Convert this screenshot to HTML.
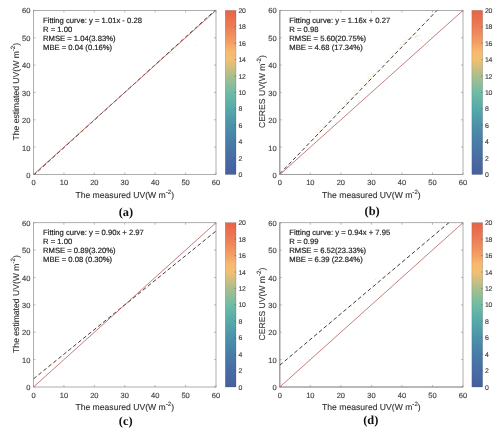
<!DOCTYPE html>
<html><head><meta charset="utf-8"><title>Figure</title>
<style>
html,body{margin:0;padding:0;background:#fff;}
svg{display:block;filter:blur(0.35px);}
.tk{font-family:"Liberation Sans", sans-serif;font-size:7.5px;fill:#444;stroke:#444;stroke-width:0.15px;}
.ck{font-family:"Liberation Sans", sans-serif;font-size:6.9px;fill:#3a3a3a;stroke:#3a3a3a;stroke-width:0.12px;letter-spacing:-0.25px;}
.an{font-family:"Liberation Sans", sans-serif;font-size:7.66px;fill:#222;stroke:#222;stroke-width:0.18px;}
.lb{font-family:"Liberation Sans", sans-serif;font-size:8.6px;fill:#333;stroke:#333;stroke-width:0.12px;}
.tg{font-family:"Liberation Serif", serif;font-size:12.4px;font-weight:bold;fill:#111;}
</style></head><body>
<svg text-rendering="geometricPrecision" width="500" height="433" viewBox="0 0 500 433"><defs><linearGradient id="cbg" x1="0" y1="1" x2="0" y2="0">
<stop offset="0" stop-color="#465fa0"/>
<stop offset="0.1" stop-color="#486ca5"/>
<stop offset="0.2" stop-color="#487da8"/>
<stop offset="0.3" stop-color="#4b91aa"/>
<stop offset="0.4" stop-color="#55aaaa"/>
<stop offset="0.5" stop-color="#6ebca5"/>
<stop offset="0.6" stop-color="#aabe8c"/>
<stop offset="0.7" stop-color="#f3bf72"/>
<stop offset="0.75" stop-color="#f8b96e"/>
<stop offset="0.8" stop-color="#f3a064"/>
<stop offset="0.9" stop-color="#ec7d55"/>
<stop offset="1" stop-color="#e86248"/>
</linearGradient></defs><rect width="500" height="433" fill="#fff"/><clipPath id="cpa"><rect x="33.5" y="10.4" width="182.5" height="164.1"/></clipPath>
<circle cx="38.37" cy="171.31" r="0.42" fill="#c9cfd9" clip-path="url(#cpa)"/>
<circle cx="40.74" cy="169.10" r="0.42" fill="#c9cfd9" clip-path="url(#cpa)"/>
<circle cx="43.11" cy="167.97" r="0.42" fill="#c3d2d6" clip-path="url(#cpa)"/>
<circle cx="45.48" cy="165.87" r="0.42" fill="#bcd6cc" clip-path="url(#cpa)"/>
<circle cx="47.86" cy="164.61" r="0.42" fill="#c3d2d6" clip-path="url(#cpa)"/>
<circle cx="50.23" cy="162.41" r="0.42" fill="#b9c6d4" clip-path="url(#cpa)"/>
<circle cx="52.60" cy="160.97" r="0.42" fill="#bcd6cc" clip-path="url(#cpa)"/>
<circle cx="54.97" cy="159.05" r="0.42" fill="#b9c6d4" clip-path="url(#cpa)"/>
<circle cx="57.35" cy="157.70" r="0.42" fill="#c9cfd9" clip-path="url(#cpa)"/>
<circle cx="59.72" cy="155.92" r="0.42" fill="#bcd6cc" clip-path="url(#cpa)"/>
<circle cx="62.09" cy="154.32" r="0.42" fill="#bcd6cc" clip-path="url(#cpa)"/>
<circle cx="76.53" cy="135.87" r="0.42" fill="#efe3b4" clip-path="url(#cpa)"/>
<circle cx="89.67" cy="122.33" r="0.42" fill="#dfe8c6" clip-path="url(#cpa)"/>
<circle cx="103.74" cy="109.33" r="0.42" fill="#f2d2a6" clip-path="url(#cpa)"/>
<circle cx="157.12" cy="63.84" r="0.42" fill="#dfe8c6" clip-path="url(#cpa)"/>
<circle cx="70.48" cy="139.87" r="0.42" fill="#efe3b4" clip-path="url(#cpa)"/>
<circle cx="117.30" cy="98.43" r="0.42" fill="#efe3b4" clip-path="url(#cpa)"/>
<circle cx="143.20" cy="69.07" r="0.42" fill="#f3dcae" clip-path="url(#cpa)"/>
<circle cx="148.39" cy="69.92" r="0.42" fill="#f2d2a6" clip-path="url(#cpa)"/>
<circle cx="149.25" cy="68.81" r="0.42" fill="#dfe8c6" clip-path="url(#cpa)"/>
<circle cx="81.15" cy="130.16" r="0.42" fill="#efe3b4" clip-path="url(#cpa)"/>
<circle cx="157.63" cy="60.71" r="0.42" fill="#efe3b4" clip-path="url(#cpa)"/>
<circle cx="92.08" cy="119.74" r="0.42" fill="#dfe8c6" clip-path="url(#cpa)"/>
<circle cx="171.39" cy="49.09" r="0.42" fill="#dfe8c6" clip-path="url(#cpa)"/>
<circle cx="113.41" cy="101.92" r="0.42" fill="#e6e0b8" clip-path="url(#cpa)"/>
<circle cx="97.90" cy="115.36" r="0.42" fill="#efe3b4" clip-path="url(#cpa)"/>
<circle cx="102.18" cy="109.56" r="0.42" fill="#efe3b4" clip-path="url(#cpa)"/>
<circle cx="83.92" cy="127.38" r="0.42" fill="#e6e0b8" clip-path="url(#cpa)"/>
<circle cx="80.45" cy="128.14" r="0.42" fill="#e9e6c0" clip-path="url(#cpa)"/>
<circle cx="140.54" cy="75.63" r="0.42" fill="#e9e6c0" clip-path="url(#cpa)"/>
<circle cx="116.27" cy="97.54" r="0.42" fill="#e9e6c0" clip-path="url(#cpa)"/>
<circle cx="113.36" cy="98.78" r="0.42" fill="#dfe8c6" clip-path="url(#cpa)"/>
<circle cx="82.05" cy="130.12" r="0.42" fill="#f3dcae" clip-path="url(#cpa)"/>
<circle cx="159.39" cy="59.17" r="0.42" fill="#f2d2a6" clip-path="url(#cpa)"/>
<circle cx="101.45" cy="110.98" r="0.42" fill="#dfe8c6" clip-path="url(#cpa)"/>
<circle cx="172.99" cy="48.12" r="0.42" fill="#f2d2a6" clip-path="url(#cpa)"/>
<circle cx="136.38" cy="76.69" r="0.42" fill="#e9e6c0" clip-path="url(#cpa)"/>
<circle cx="115.66" cy="96.31" r="0.42" fill="#efe3b4" clip-path="url(#cpa)"/>
<circle cx="149.91" cy="68.79" r="0.42" fill="#efe3b4" clip-path="url(#cpa)"/>
<circle cx="77.68" cy="132.02" r="0.42" fill="#e9e6c0" clip-path="url(#cpa)"/>
<circle cx="130.26" cy="85.76" r="0.42" fill="#f3dcae" clip-path="url(#cpa)"/>
<circle cx="134.34" cy="80.15" r="0.42" fill="#e9e6c0" clip-path="url(#cpa)"/>
<circle cx="169.19" cy="52.81" r="0.42" fill="#dfe8c6" clip-path="url(#cpa)"/>
<circle cx="88.91" cy="122.84" r="0.42" fill="#e9e6c0" clip-path="url(#cpa)"/>
<circle cx="102.14" cy="110.86" r="0.42" fill="#e6e0b8" clip-path="url(#cpa)"/>
<circle cx="89.63" cy="120.34" r="0.42" fill="#e6e0b8" clip-path="url(#cpa)"/>
<circle cx="135.05" cy="83.71" r="0.42" fill="#dfe8c6" clip-path="url(#cpa)"/>
<circle cx="161.23" cy="58.77" r="0.42" fill="#f2d2a6" clip-path="url(#cpa)"/>
<circle cx="78.12" cy="132.05" r="0.42" fill="#f2d2a6" clip-path="url(#cpa)"/>
<circle cx="169.56" cy="50.31" r="0.42" fill="#e9e6c0" clip-path="url(#cpa)"/>
<circle cx="146.51" cy="72.46" r="0.42" fill="#f2d2a6" clip-path="url(#cpa)"/>
<circle cx="120.78" cy="93.39" r="0.42" fill="#f2d2a6" clip-path="url(#cpa)"/>
<circle cx="88.14" cy="123.83" r="0.42" fill="#e9e6c0" clip-path="url(#cpa)"/>
<circle cx="119.57" cy="96.03" r="0.42" fill="#e6e0b8" clip-path="url(#cpa)"/>
<circle cx="158.15" cy="61.69" r="0.42" fill="#e9e6c0" clip-path="url(#cpa)"/>
<circle cx="147.46" cy="71.19" r="0.42" fill="#efe3b4" clip-path="url(#cpa)"/>
<circle cx="196.23" cy="45.13" r="0.42" fill="#b4ccd0" clip-path="url(#cpa)"/>
<circle cx="187.10" cy="46.78" r="0.42" fill="#c9cfd9" clip-path="url(#cpa)"/>
<circle cx="181.93" cy="47.32" r="0.42" fill="#c9cfd9" clip-path="url(#cpa)"/>
<circle cx="178.28" cy="49.24" r="0.42" fill="#c3d2d6" clip-path="url(#cpa)"/>
<circle cx="175.85" cy="50.88" r="0.42" fill="#b9c6d4" clip-path="url(#cpa)"/>
<circle cx="174.03" cy="51.70" r="0.42" fill="#b9c6d4" clip-path="url(#cpa)"/>
<circle cx="172.20" cy="52.52" r="0.42" fill="#c3d2d6" clip-path="url(#cpa)"/>
<circle cx="170.38" cy="53.07" r="0.42" fill="#b4ccd0" clip-path="url(#cpa)"/>
<rect x="33.5" y="10.4" width="182.5" height="164.1" fill="none" stroke="#999" stroke-width="0.8"/>
<line x1="33.50" y1="174.5" x2="33.50" y2="172.5" stroke="#999" stroke-width="0.7"/>
<line x1="33.50" y1="10.4" x2="33.50" y2="12.4" stroke="#999" stroke-width="0.7"/>
<line x1="33.5" y1="174.50" x2="35.5" y2="174.50" stroke="#999" stroke-width="0.7"/>
<line x1="216" y1="174.50" x2="214" y2="174.50" stroke="#999" stroke-width="0.7"/>
<text x="33.50" y="185.1" text-anchor="middle" class="tk">0</text>
<text x="30.4" y="177.95" text-anchor="end" class="tk">0</text>
<line x1="63.92" y1="174.5" x2="63.92" y2="172.5" stroke="#999" stroke-width="0.7"/>
<line x1="63.92" y1="10.4" x2="63.92" y2="12.4" stroke="#999" stroke-width="0.7"/>
<line x1="33.5" y1="147.15" x2="35.5" y2="147.15" stroke="#999" stroke-width="0.7"/>
<line x1="216" y1="147.15" x2="214" y2="147.15" stroke="#999" stroke-width="0.7"/>
<text x="63.92" y="185.1" text-anchor="middle" class="tk">10</text>
<text x="30.4" y="150.50" text-anchor="end" class="tk">10</text>
<line x1="94.33" y1="174.5" x2="94.33" y2="172.5" stroke="#999" stroke-width="0.7"/>
<line x1="94.33" y1="10.4" x2="94.33" y2="12.4" stroke="#999" stroke-width="0.7"/>
<line x1="33.5" y1="119.80" x2="35.5" y2="119.80" stroke="#999" stroke-width="0.7"/>
<line x1="216" y1="119.80" x2="214" y2="119.80" stroke="#999" stroke-width="0.7"/>
<text x="94.33" y="185.1" text-anchor="middle" class="tk">20</text>
<text x="30.4" y="123.05" text-anchor="end" class="tk">20</text>
<line x1="124.75" y1="174.5" x2="124.75" y2="172.5" stroke="#999" stroke-width="0.7"/>
<line x1="124.75" y1="10.4" x2="124.75" y2="12.4" stroke="#999" stroke-width="0.7"/>
<line x1="33.5" y1="92.45" x2="35.5" y2="92.45" stroke="#999" stroke-width="0.7"/>
<line x1="216" y1="92.45" x2="214" y2="92.45" stroke="#999" stroke-width="0.7"/>
<text x="124.75" y="185.1" text-anchor="middle" class="tk">30</text>
<text x="30.4" y="95.60" text-anchor="end" class="tk">30</text>
<line x1="155.17" y1="174.5" x2="155.17" y2="172.5" stroke="#999" stroke-width="0.7"/>
<line x1="155.17" y1="10.4" x2="155.17" y2="12.4" stroke="#999" stroke-width="0.7"/>
<line x1="33.5" y1="65.10" x2="35.5" y2="65.10" stroke="#999" stroke-width="0.7"/>
<line x1="216" y1="65.10" x2="214" y2="65.10" stroke="#999" stroke-width="0.7"/>
<text x="155.17" y="185.1" text-anchor="middle" class="tk">40</text>
<text x="30.4" y="68.15" text-anchor="end" class="tk">40</text>
<line x1="185.58" y1="174.5" x2="185.58" y2="172.5" stroke="#999" stroke-width="0.7"/>
<line x1="185.58" y1="10.4" x2="185.58" y2="12.4" stroke="#999" stroke-width="0.7"/>
<line x1="33.5" y1="37.75" x2="35.5" y2="37.75" stroke="#999" stroke-width="0.7"/>
<line x1="216" y1="37.75" x2="214" y2="37.75" stroke="#999" stroke-width="0.7"/>
<text x="185.58" y="185.1" text-anchor="middle" class="tk">50</text>
<text x="30.4" y="40.70" text-anchor="end" class="tk">50</text>
<line x1="216.00" y1="174.5" x2="216.00" y2="172.5" stroke="#999" stroke-width="0.7"/>
<line x1="216.00" y1="10.4" x2="216.00" y2="12.4" stroke="#999" stroke-width="0.7"/>
<line x1="33.5" y1="10.40" x2="35.5" y2="10.40" stroke="#999" stroke-width="0.7"/>
<line x1="216" y1="10.40" x2="214" y2="10.40" stroke="#999" stroke-width="0.7"/>
<text x="216.00" y="185.1" text-anchor="middle" class="tk">60</text>
<text x="30.4" y="13.25" text-anchor="end" class="tk">60</text>
<line x1="33.50" y1="175.27" x2="216.00" y2="9.52" stroke="#333" stroke-width="0.95" stroke-dasharray="3.9 2.5" clip-path="url(#cpa)"/>
<line x1="33.5" y1="174.5" x2="216.0" y2="10.400000000000006" stroke="#b85c5c" stroke-width="0.8" clip-path="url(#cpa)"/>
<text x="43.0" y="22.60" class="an">Fitting curve: y = 1.01x - 0.28</text>
<text x="43.0" y="31.60" class="an">R = 1.00</text>
<text x="43.0" y="40.60" class="an">RMSE = 1.04(3.83%)</text>
<text x="43.0" y="49.60" class="an">MBE = 0.04 (0.16%)</text>
<text x="124.75" y="198.0" text-anchor="middle" class="lb">The measured UV(W m<tspan dy="-3.8" font-size="6.2">-2</tspan><tspan dy="3.8">)</tspan></text>
<text transform="translate(18.5,91.65) rotate(-90)" text-anchor="middle" class="lb">The estimated UV(W m<tspan dy="-3.8" font-size="6.2">-2</tspan><tspan dy="3.8">)</tspan></text>
<rect x="225.3" y="10.4" width="10.699999999999989" height="164.1" fill="url(#cbg)" stroke="#444" stroke-opacity="0.55" stroke-width="0.4"/>
<text x="238.4" y="177.10" class="ck">0</text>
<text x="238.4" y="160.69" class="ck">2</text>
<line x1="236.0" y1="158.09" x2="234.4" y2="158.09" stroke="#444" stroke-opacity="0.7" stroke-width="0.5"/>
<text x="238.4" y="144.28" class="ck">4</text>
<line x1="236.0" y1="141.68" x2="234.4" y2="141.68" stroke="#444" stroke-opacity="0.7" stroke-width="0.5"/>
<text x="238.4" y="127.87" class="ck">6</text>
<line x1="236.0" y1="125.27" x2="234.4" y2="125.27" stroke="#444" stroke-opacity="0.7" stroke-width="0.5"/>
<text x="238.4" y="111.46" class="ck">8</text>
<line x1="236.0" y1="108.86" x2="234.4" y2="108.86" stroke="#444" stroke-opacity="0.7" stroke-width="0.5"/>
<text x="238.4" y="95.05" class="ck">10</text>
<line x1="236.0" y1="92.45" x2="234.4" y2="92.45" stroke="#444" stroke-opacity="0.7" stroke-width="0.5"/>
<text x="238.4" y="78.64" class="ck">12</text>
<line x1="236.0" y1="76.04" x2="234.4" y2="76.04" stroke="#444" stroke-opacity="0.7" stroke-width="0.5"/>
<text x="238.4" y="62.23" class="ck">14</text>
<line x1="236.0" y1="59.63" x2="234.4" y2="59.63" stroke="#444" stroke-opacity="0.7" stroke-width="0.5"/>
<text x="238.4" y="45.82" class="ck">16</text>
<line x1="236.0" y1="43.22" x2="234.4" y2="43.22" stroke="#444" stroke-opacity="0.7" stroke-width="0.5"/>
<text x="238.4" y="29.41" class="ck">18</text>
<line x1="236.0" y1="26.81" x2="234.4" y2="26.81" stroke="#444" stroke-opacity="0.7" stroke-width="0.5"/>
<text x="238.4" y="13.00" class="ck">20</text>
<text x="125.9" y="216.2" text-anchor="middle" class="tg">(a)</text><clipPath id="cpb"><rect x="279.8" y="10.4" width="183.2" height="164.1"/></clipPath>
<circle cx="284.69" cy="170.73" r="0.42" fill="#b9c6d4" clip-path="url(#cpb)"/>
<circle cx="287.07" cy="169.27" r="0.42" fill="#bcd6cc" clip-path="url(#cpb)"/>
<circle cx="289.45" cy="167.33" r="0.42" fill="#b9c6d4" clip-path="url(#cpb)"/>
<circle cx="291.83" cy="165.85" r="0.42" fill="#b4ccd0" clip-path="url(#cpb)"/>
<circle cx="294.21" cy="164.13" r="0.42" fill="#b4ccd0" clip-path="url(#cpb)"/>
<circle cx="296.59" cy="162.61" r="0.42" fill="#b9c6d4" clip-path="url(#cpb)"/>
<circle cx="298.97" cy="160.98" r="0.42" fill="#bcd6cc" clip-path="url(#cpb)"/>
<circle cx="301.36" cy="158.71" r="0.42" fill="#c9cfd9" clip-path="url(#cpb)"/>
<circle cx="303.74" cy="157.45" r="0.42" fill="#b9c6d4" clip-path="url(#cpb)"/>
<circle cx="306.12" cy="155.84" r="0.42" fill="#bcd6cc" clip-path="url(#cpb)"/>
<circle cx="308.50" cy="154.08" r="0.42" fill="#c3d2d6" clip-path="url(#cpb)"/>
<circle cx="404.20" cy="40.30" r="0.42" fill="#f2d2a6" clip-path="url(#cpb)"/>
<circle cx="319.92" cy="132.72" r="0.42" fill="#e9e6c0" clip-path="url(#cpb)"/>
<circle cx="415.63" cy="37.29" r="0.42" fill="#e6e0b8" clip-path="url(#cpb)"/>
<circle cx="368.45" cy="76.21" r="0.42" fill="#e6e0b8" clip-path="url(#cpb)"/>
<circle cx="333.16" cy="114.69" r="0.42" fill="#efe3b4" clip-path="url(#cpb)"/>
<circle cx="358.21" cy="89.56" r="0.42" fill="#dfe8c6" clip-path="url(#cpb)"/>
<circle cx="355.84" cy="91.05" r="0.42" fill="#f2d2a6" clip-path="url(#cpb)"/>
<circle cx="353.33" cy="96.08" r="0.42" fill="#f2d2a6" clip-path="url(#cpb)"/>
<circle cx="373.37" cy="75.53" r="0.42" fill="#f2d2a6" clip-path="url(#cpb)"/>
<circle cx="359.06" cy="90.12" r="0.42" fill="#efe3b4" clip-path="url(#cpb)"/>
<circle cx="359.53" cy="87.73" r="0.42" fill="#e9e6c0" clip-path="url(#cpb)"/>
<circle cx="368.10" cy="77.21" r="0.42" fill="#e9e6c0" clip-path="url(#cpb)"/>
<circle cx="331.70" cy="117.34" r="0.42" fill="#f3dcae" clip-path="url(#cpb)"/>
<circle cx="410.61" cy="37.40" r="0.42" fill="#efe3b4" clip-path="url(#cpb)"/>
<circle cx="370.61" cy="79.21" r="0.42" fill="#e9e6c0" clip-path="url(#cpb)"/>
<circle cx="383.45" cy="67.18" r="0.42" fill="#efe3b4" clip-path="url(#cpb)"/>
<circle cx="401.88" cy="44.14" r="0.42" fill="#efe3b4" clip-path="url(#cpb)"/>
<circle cx="366.66" cy="82.75" r="0.42" fill="#e6e0b8" clip-path="url(#cpb)"/>
<circle cx="392.86" cy="54.80" r="0.42" fill="#e6e0b8" clip-path="url(#cpb)"/>
<circle cx="389.70" cy="57.06" r="0.42" fill="#f2d2a6" clip-path="url(#cpb)"/>
<circle cx="341.05" cy="108.50" r="0.42" fill="#f3dcae" clip-path="url(#cpb)"/>
<circle cx="381.20" cy="65.52" r="0.42" fill="#e6e0b8" clip-path="url(#cpb)"/>
<circle cx="377.17" cy="69.54" r="0.42" fill="#efe3b4" clip-path="url(#cpb)"/>
<circle cx="416.74" cy="36.79" r="0.42" fill="#e9e6c0" clip-path="url(#cpb)"/>
<circle cx="370.50" cy="76.73" r="0.42" fill="#efe3b4" clip-path="url(#cpb)"/>
<circle cx="342.92" cy="106.19" r="0.42" fill="#e9e6c0" clip-path="url(#cpb)"/>
<circle cx="356.43" cy="90.81" r="0.42" fill="#f2d2a6" clip-path="url(#cpb)"/>
<circle cx="402.53" cy="41.10" r="0.42" fill="#f2d2a6" clip-path="url(#cpb)"/>
<circle cx="316.91" cy="132.78" r="0.42" fill="#dfe8c6" clip-path="url(#cpb)"/>
<circle cx="318.64" cy="129.06" r="0.42" fill="#f3dcae" clip-path="url(#cpb)"/>
<circle cx="340.00" cy="111.41" r="0.42" fill="#efe3b4" clip-path="url(#cpb)"/>
<circle cx="412.86" cy="37.17" r="0.42" fill="#e6e0b8" clip-path="url(#cpb)"/>
<circle cx="347.46" cy="102.10" r="0.42" fill="#f3dcae" clip-path="url(#cpb)"/>
<circle cx="317.90" cy="132.02" r="0.42" fill="#efe3b4" clip-path="url(#cpb)"/>
<circle cx="336.40" cy="112.99" r="0.42" fill="#e6e0b8" clip-path="url(#cpb)"/>
<circle cx="338.32" cy="113.27" r="0.42" fill="#f3dcae" clip-path="url(#cpb)"/>
<circle cx="341.07" cy="108.44" r="0.42" fill="#e6e0b8" clip-path="url(#cpb)"/>
<circle cx="353.98" cy="95.37" r="0.42" fill="#f2d2a6" clip-path="url(#cpb)"/>
<circle cx="372.31" cy="76.77" r="0.42" fill="#f2d2a6" clip-path="url(#cpb)"/>
<circle cx="341.50" cy="104.49" r="0.42" fill="#f3dcae" clip-path="url(#cpb)"/>
<circle cx="403.02" cy="41.15" r="0.42" fill="#e9e6c0" clip-path="url(#cpb)"/>
<circle cx="417.45" cy="35.87" r="0.42" fill="#efe3b4" clip-path="url(#cpb)"/>
<circle cx="354.72" cy="91.93" r="0.42" fill="#e9e6c0" clip-path="url(#cpb)"/>
<circle cx="322.54" cy="128.63" r="0.42" fill="#efe3b4" clip-path="url(#cpb)"/>
<circle cx="368.71" cy="80.41" r="0.42" fill="#f2d2a6" clip-path="url(#cpb)"/>
<circle cx="352.07" cy="96.99" r="0.42" fill="#f3dcae" clip-path="url(#cpb)"/>
<circle cx="395.44" cy="51.71" r="0.42" fill="#e6e0b8" clip-path="url(#cpb)"/>
<circle cx="318.88" cy="130.51" r="0.42" fill="#f2d2a6" clip-path="url(#cpb)"/>
<circle cx="320.50" cy="130.15" r="0.42" fill="#f3dcae" clip-path="url(#cpb)"/>
<circle cx="410.56" cy="38.01" r="0.42" fill="#e6e0b8" clip-path="url(#cpb)"/>
<circle cx="372.06" cy="74.38" r="0.42" fill="#e6e0b8" clip-path="url(#cpb)"/>
<circle cx="318.97" cy="128.19" r="0.42" fill="#f3dcae" clip-path="url(#cpb)"/>
<circle cx="385.96" cy="58.93" r="0.42" fill="#efe3b4" clip-path="url(#cpb)"/>
<circle cx="412.33" cy="36.47" r="0.42" fill="#f3dcae" clip-path="url(#cpb)"/>
<circle cx="325.43" cy="123.97" r="0.42" fill="#e9e6c0" clip-path="url(#cpb)"/>
<circle cx="330.47" cy="121.45" r="0.42" fill="#e9e6c0" clip-path="url(#cpb)"/>
<circle cx="400.30" cy="44.50" r="0.42" fill="#f2d2a6" clip-path="url(#cpb)"/>
<circle cx="415.88" cy="36.66" r="0.42" fill="#f3dcae" clip-path="url(#cpb)"/>
<circle cx="368.33" cy="79.41" r="0.42" fill="#e9e6c0" clip-path="url(#cpb)"/>
<circle cx="393.70" cy="52.38" r="0.42" fill="#f3dcae" clip-path="url(#cpb)"/>
<circle cx="419.66" cy="36.10" r="0.42" fill="#dfe8c6" clip-path="url(#cpb)"/>
<circle cx="348.27" cy="101.67" r="0.42" fill="#e6e0b8" clip-path="url(#cpb)"/>
<circle cx="349.68" cy="97.39" r="0.42" fill="#f2d2a6" clip-path="url(#cpb)"/>
<circle cx="409.06" cy="37.94" r="0.42" fill="#dfe8c6" clip-path="url(#cpb)"/>
<circle cx="386.72" cy="59.66" r="0.42" fill="#f3dcae" clip-path="url(#cpb)"/>
<circle cx="335.69" cy="116.82" r="0.42" fill="#efe3b4" clip-path="url(#cpb)"/>
<circle cx="329.90" cy="124.53" r="0.42" fill="#e9e6c0" clip-path="url(#cpb)"/>
<circle cx="373.60" cy="73.29" r="0.42" fill="#e9e6c0" clip-path="url(#cpb)"/>
<circle cx="315.58" cy="136.34" r="0.42" fill="#f3dcae" clip-path="url(#cpb)"/>
<circle cx="370.84" cy="78.64" r="0.42" fill="#f3dcae" clip-path="url(#cpb)"/>
<circle cx="392.29" cy="55.72" r="0.42" fill="#dfe8c6" clip-path="url(#cpb)"/>
<circle cx="384.72" cy="61.73" r="0.42" fill="#dfe8c6" clip-path="url(#cpb)"/>
<circle cx="341.37" cy="106.69" r="0.42" fill="#e9e6c0" clip-path="url(#cpb)"/>
<circle cx="382.15" cy="68.31" r="0.42" fill="#efe3b4" clip-path="url(#cpb)"/>
<circle cx="377.71" cy="68.31" r="0.42" fill="#f3dcae" clip-path="url(#cpb)"/>
<circle cx="362.58" cy="83.06" r="0.42" fill="#efe3b4" clip-path="url(#cpb)"/>
<circle cx="375.42" cy="78.31" r="0.42" fill="#e9e6c0" clip-path="url(#cpb)"/>
<circle cx="416.55" cy="35.26" r="0.42" fill="#f2d2a6" clip-path="url(#cpb)"/>
<circle cx="346.30" cy="100.64" r="0.42" fill="#e6e0b8" clip-path="url(#cpb)"/>
<circle cx="367.77" cy="81.56" r="0.42" fill="#efe3b4" clip-path="url(#cpb)"/>
<circle cx="353.20" cy="96.67" r="0.42" fill="#efe3b4" clip-path="url(#cpb)"/>
<circle cx="331.09" cy="119.92" r="0.42" fill="#dfe8c6" clip-path="url(#cpb)"/>
<circle cx="413.92" cy="37.19" r="0.42" fill="#efe3b4" clip-path="url(#cpb)"/>
<circle cx="341.32" cy="107.99" r="0.42" fill="#e6e0b8" clip-path="url(#cpb)"/>
<circle cx="322.37" cy="126.69" r="0.42" fill="#dfe8c6" clip-path="url(#cpb)"/>
<circle cx="370.87" cy="77.23" r="0.42" fill="#f3dcae" clip-path="url(#cpb)"/>
<circle cx="337.79" cy="108.19" r="0.42" fill="#efe3b4" clip-path="url(#cpb)"/>
<circle cx="379.02" cy="64.84" r="0.42" fill="#f2d2a6" clip-path="url(#cpb)"/>
<circle cx="371.20" cy="76.64" r="0.42" fill="#f3dcae" clip-path="url(#cpb)"/>
<circle cx="415.16" cy="36.32" r="0.42" fill="#dfe8c6" clip-path="url(#cpb)"/>
<circle cx="341.58" cy="108.63" r="0.42" fill="#f3dcae" clip-path="url(#cpb)"/>
<circle cx="329.05" cy="121.95" r="0.42" fill="#f2d2a6" clip-path="url(#cpb)"/>
<circle cx="323.71" cy="129.02" r="0.42" fill="#efe3b4" clip-path="url(#cpb)"/>
<circle cx="330.28" cy="119.01" r="0.42" fill="#dfe8c6" clip-path="url(#cpb)"/>
<circle cx="383.74" cy="65.28" r="0.42" fill="#efe3b4" clip-path="url(#cpb)"/>
<circle cx="404.75" cy="41.07" r="0.42" fill="#f2d2a6" clip-path="url(#cpb)"/>
<circle cx="373.45" cy="73.38" r="0.42" fill="#e6e0b8" clip-path="url(#cpb)"/>
<circle cx="325.11" cy="127.67" r="0.42" fill="#dfe8c6" clip-path="url(#cpb)"/>
<circle cx="402.31" cy="44.22" r="0.42" fill="#efe3b4" clip-path="url(#cpb)"/>
<circle cx="419.43" cy="35.88" r="0.42" fill="#e6e0b8" clip-path="url(#cpb)"/>
<circle cx="398.24" cy="46.64" r="0.42" fill="#e6e0b8" clip-path="url(#cpb)"/>
<circle cx="351.61" cy="98.61" r="0.42" fill="#f2d2a6" clip-path="url(#cpb)"/>
<circle cx="363.50" cy="83.01" r="0.42" fill="#dfe8c6" clip-path="url(#cpb)"/>
<circle cx="329.62" cy="118.69" r="0.42" fill="#f3dcae" clip-path="url(#cpb)"/>
<circle cx="392.19" cy="58.57" r="0.42" fill="#dfe8c6" clip-path="url(#cpb)"/>
<circle cx="369.53" cy="78.29" r="0.42" fill="#efe3b4" clip-path="url(#cpb)"/>
<circle cx="336.02" cy="115.09" r="0.42" fill="#efe3b4" clip-path="url(#cpb)"/>
<circle cx="402.03" cy="45.50" r="0.42" fill="#efe3b4" clip-path="url(#cpb)"/>
<circle cx="381.58" cy="64.72" r="0.42" fill="#e9e6c0" clip-path="url(#cpb)"/>
<circle cx="329.41" cy="121.87" r="0.42" fill="#f2d2a6" clip-path="url(#cpb)"/>
<circle cx="364.84" cy="84.85" r="0.42" fill="#f3dcae" clip-path="url(#cpb)"/>
<circle cx="327.93" cy="120.24" r="0.42" fill="#e9e6c0" clip-path="url(#cpb)"/>
<circle cx="411.03" cy="36.90" r="0.42" fill="#f3dcae" clip-path="url(#cpb)"/>
<circle cx="379.14" cy="70.47" r="0.42" fill="#f2d2a6" clip-path="url(#cpb)"/>
<circle cx="410.65" cy="38.75" r="0.42" fill="#e9e6c0" clip-path="url(#cpb)"/>
<circle cx="347.52" cy="100.05" r="0.42" fill="#e6e0b8" clip-path="url(#cpb)"/>
<circle cx="337.71" cy="111.06" r="0.42" fill="#f2d2a6" clip-path="url(#cpb)"/>
<circle cx="344.73" cy="103.60" r="0.42" fill="#efe3b4" clip-path="url(#cpb)"/>
<circle cx="392.63" cy="53.95" r="0.42" fill="#f2d2a6" clip-path="url(#cpb)"/>
<circle cx="365.41" cy="82.48" r="0.42" fill="#e9e6c0" clip-path="url(#cpb)"/>
<circle cx="394.35" cy="52.23" r="0.42" fill="#f3dcae" clip-path="url(#cpb)"/>
<circle cx="318.17" cy="133.33" r="0.42" fill="#f2d2a6" clip-path="url(#cpb)"/>
<circle cx="360.65" cy="87.22" r="0.42" fill="#f3dcae" clip-path="url(#cpb)"/>
<circle cx="338.29" cy="113.54" r="0.42" fill="#e6e0b8" clip-path="url(#cpb)"/>
<circle cx="417.46" cy="35.90" r="0.42" fill="#e6e0b8" clip-path="url(#cpb)"/>
<circle cx="316.01" cy="134.00" r="0.42" fill="#dfe8c6" clip-path="url(#cpb)"/>
<circle cx="354.68" cy="90.35" r="0.42" fill="#f2d2a6" clip-path="url(#cpb)"/>
<circle cx="323.87" cy="123.97" r="0.42" fill="#f3dcae" clip-path="url(#cpb)"/>
<circle cx="355.11" cy="91.93" r="0.42" fill="#efe3b4" clip-path="url(#cpb)"/>
<circle cx="419.38" cy="34.32" r="0.42" fill="#dfe8c6" clip-path="url(#cpb)"/>
<circle cx="348.20" cy="99.56" r="0.42" fill="#efe3b4" clip-path="url(#cpb)"/>
<circle cx="415.97" cy="37.88" r="0.42" fill="#f3dcae" clip-path="url(#cpb)"/>
<circle cx="342.26" cy="103.09" r="0.42" fill="#f3dcae" clip-path="url(#cpb)"/>
<circle cx="398.26" cy="47.19" r="0.42" fill="#e6e0b8" clip-path="url(#cpb)"/>
<circle cx="323.84" cy="124.20" r="0.42" fill="#e9e6c0" clip-path="url(#cpb)"/>
<circle cx="338.51" cy="109.50" r="0.42" fill="#f3dcae" clip-path="url(#cpb)"/>
<circle cx="363.30" cy="84.68" r="0.42" fill="#dfe8c6" clip-path="url(#cpb)"/>
<circle cx="322.71" cy="129.18" r="0.42" fill="#dfe8c6" clip-path="url(#cpb)"/>
<circle cx="345.25" cy="101.84" r="0.42" fill="#f2d2a6" clip-path="url(#cpb)"/>
<circle cx="378.51" cy="68.10" r="0.42" fill="#dfe8c6" clip-path="url(#cpb)"/>
<circle cx="377.13" cy="70.03" r="0.42" fill="#dfe8c6" clip-path="url(#cpb)"/>
<circle cx="339.31" cy="111.23" r="0.42" fill="#efe3b4" clip-path="url(#cpb)"/>
<circle cx="391.16" cy="55.75" r="0.42" fill="#f2d2a6" clip-path="url(#cpb)"/>
<circle cx="325.01" cy="125.83" r="0.42" fill="#f3dcae" clip-path="url(#cpb)"/>
<circle cx="393.68" cy="54.29" r="0.42" fill="#efe3b4" clip-path="url(#cpb)"/>
<circle cx="365.09" cy="86.87" r="0.42" fill="#efe3b4" clip-path="url(#cpb)"/>
<circle cx="406.20" cy="41.74" r="0.42" fill="#efe3b4" clip-path="url(#cpb)"/>
<circle cx="354.19" cy="93.17" r="0.42" fill="#efe3b4" clip-path="url(#cpb)"/>
<circle cx="369.23" cy="79.12" r="0.42" fill="#efe3b4" clip-path="url(#cpb)"/>
<circle cx="394.16" cy="52.74" r="0.42" fill="#e6e0b8" clip-path="url(#cpb)"/>
<circle cx="368.41" cy="78.36" r="0.42" fill="#e9e6c0" clip-path="url(#cpb)"/>
<circle cx="367.90" cy="77.50" r="0.42" fill="#f2d2a6" clip-path="url(#cpb)"/>
<circle cx="346.59" cy="103.01" r="0.42" fill="#efe3b4" clip-path="url(#cpb)"/>
<circle cx="392.32" cy="56.42" r="0.42" fill="#e9e6c0" clip-path="url(#cpb)"/>
<circle cx="370.66" cy="82.18" r="0.42" fill="#e6e0b8" clip-path="url(#cpb)"/>
<circle cx="337.93" cy="109.15" r="0.42" fill="#e9e6c0" clip-path="url(#cpb)"/>
<circle cx="342.20" cy="107.84" r="0.42" fill="#dfe8c6" clip-path="url(#cpb)"/>
<circle cx="351.28" cy="96.98" r="0.42" fill="#dfe8c6" clip-path="url(#cpb)"/>
<circle cx="385.28" cy="60.21" r="0.42" fill="#efe3b4" clip-path="url(#cpb)"/>
<circle cx="344.81" cy="99.32" r="0.42" fill="#e6e0b8" clip-path="url(#cpb)"/>
<circle cx="412.05" cy="38.81" r="0.42" fill="#dfe8c6" clip-path="url(#cpb)"/>
<circle cx="350.67" cy="100.69" r="0.42" fill="#f2d2a6" clip-path="url(#cpb)"/>
<circle cx="323.31" cy="128.02" r="0.42" fill="#f2d2a6" clip-path="url(#cpb)"/>
<circle cx="361.04" cy="86.95" r="0.42" fill="#f2d2a6" clip-path="url(#cpb)"/>
<circle cx="407.04" cy="39.08" r="0.42" fill="#f2d2a6" clip-path="url(#cpb)"/>
<circle cx="392.64" cy="54.29" r="0.42" fill="#efe3b4" clip-path="url(#cpb)"/>
<circle cx="355.15" cy="94.42" r="0.42" fill="#efe3b4" clip-path="url(#cpb)"/>
<circle cx="418.85" cy="35.57" r="0.42" fill="#dfe8c6" clip-path="url(#cpb)"/>
<circle cx="345.32" cy="106.35" r="0.42" fill="#e6e0b8" clip-path="url(#cpb)"/>
<circle cx="330.07" cy="119.96" r="0.42" fill="#dfe8c6" clip-path="url(#cpb)"/>
<circle cx="408.36" cy="39.59" r="0.42" fill="#efe3b4" clip-path="url(#cpb)"/>
<circle cx="404.10" cy="41.25" r="0.42" fill="#dfe8c6" clip-path="url(#cpb)"/>
<circle cx="417.62" cy="39.33" r="0.42" fill="#efe3b4" clip-path="url(#cpb)"/>
<circle cx="417.72" cy="39.27" r="0.42" fill="#f3dcae" clip-path="url(#cpb)"/>
<circle cx="417.23" cy="35.03" r="0.42" fill="#e9e6c0" clip-path="url(#cpb)"/>
<circle cx="415.42" cy="36.79" r="0.42" fill="#f2d2a6" clip-path="url(#cpb)"/>
<circle cx="416.94" cy="36.66" r="0.42" fill="#f2d2a6" clip-path="url(#cpb)"/>
<circle cx="406.41" cy="38.41" r="0.42" fill="#dfe8c6" clip-path="url(#cpb)"/>
<circle cx="404.21" cy="37.66" r="0.42" fill="#dfe8c6" clip-path="url(#cpb)"/>
<circle cx="420.19" cy="39.22" r="0.42" fill="#f3dcae" clip-path="url(#cpb)"/>
<circle cx="412.67" cy="42.16" r="0.42" fill="#e9e6c0" clip-path="url(#cpb)"/>
<circle cx="420.96" cy="35.74" r="0.42" fill="#f2d2a6" clip-path="url(#cpb)"/>
<circle cx="442.85" cy="44.31" r="0.42" fill="#c9cfd9" clip-path="url(#cpb)"/>
<circle cx="433.69" cy="43.22" r="0.42" fill="#c3d2d6" clip-path="url(#cpb)"/>
<circle cx="428.50" cy="44.31" r="0.42" fill="#b4ccd0" clip-path="url(#cpb)"/>
<circle cx="421.47" cy="40.21" r="0.42" fill="#bcd6cc" clip-path="url(#cpb)"/>
<circle cx="417.81" cy="38.30" r="0.42" fill="#bcd6cc" clip-path="url(#cpb)"/>
<circle cx="407.73" cy="35.56" r="0.42" fill="#c3d2d6" clip-path="url(#cpb)"/>
<rect x="279.8" y="10.4" width="183.2" height="164.1" fill="none" stroke="#999" stroke-width="0.8"/>
<path d="M279.8 10.4 V174.5 H463" fill="none" stroke="#9c9c9c" stroke-width="1.15"/>
<line x1="279.80" y1="174.5" x2="279.80" y2="172.5" stroke="#999" stroke-width="0.7"/>
<line x1="279.80" y1="10.4" x2="279.80" y2="12.4" stroke="#999" stroke-width="0.7"/>
<line x1="279.8" y1="174.50" x2="281.8" y2="174.50" stroke="#999" stroke-width="0.7"/>
<line x1="463" y1="174.50" x2="461" y2="174.50" stroke="#999" stroke-width="0.7"/>
<text x="279.80" y="185.1" text-anchor="middle" class="tk">0</text>
<text x="276.7" y="177.95" text-anchor="end" class="tk">0</text>
<line x1="310.33" y1="174.5" x2="310.33" y2="172.5" stroke="#999" stroke-width="0.7"/>
<line x1="310.33" y1="10.4" x2="310.33" y2="12.4" stroke="#999" stroke-width="0.7"/>
<line x1="279.8" y1="147.15" x2="281.8" y2="147.15" stroke="#999" stroke-width="0.7"/>
<line x1="463" y1="147.15" x2="461" y2="147.15" stroke="#999" stroke-width="0.7"/>
<text x="310.33" y="185.1" text-anchor="middle" class="tk">10</text>
<text x="276.7" y="150.50" text-anchor="end" class="tk">10</text>
<line x1="340.87" y1="174.5" x2="340.87" y2="172.5" stroke="#999" stroke-width="0.7"/>
<line x1="340.87" y1="10.4" x2="340.87" y2="12.4" stroke="#999" stroke-width="0.7"/>
<line x1="279.8" y1="119.80" x2="281.8" y2="119.80" stroke="#999" stroke-width="0.7"/>
<line x1="463" y1="119.80" x2="461" y2="119.80" stroke="#999" stroke-width="0.7"/>
<text x="340.87" y="185.1" text-anchor="middle" class="tk">20</text>
<text x="276.7" y="123.05" text-anchor="end" class="tk">20</text>
<line x1="371.40" y1="174.5" x2="371.40" y2="172.5" stroke="#999" stroke-width="0.7"/>
<line x1="371.40" y1="10.4" x2="371.40" y2="12.4" stroke="#999" stroke-width="0.7"/>
<line x1="279.8" y1="92.45" x2="281.8" y2="92.45" stroke="#999" stroke-width="0.7"/>
<line x1="463" y1="92.45" x2="461" y2="92.45" stroke="#999" stroke-width="0.7"/>
<text x="371.40" y="185.1" text-anchor="middle" class="tk">30</text>
<text x="276.7" y="95.60" text-anchor="end" class="tk">30</text>
<line x1="401.93" y1="174.5" x2="401.93" y2="172.5" stroke="#999" stroke-width="0.7"/>
<line x1="401.93" y1="10.4" x2="401.93" y2="12.4" stroke="#999" stroke-width="0.7"/>
<line x1="279.8" y1="65.10" x2="281.8" y2="65.10" stroke="#999" stroke-width="0.7"/>
<line x1="463" y1="65.10" x2="461" y2="65.10" stroke="#999" stroke-width="0.7"/>
<text x="401.93" y="185.1" text-anchor="middle" class="tk">40</text>
<text x="276.7" y="68.15" text-anchor="end" class="tk">40</text>
<line x1="432.47" y1="174.5" x2="432.47" y2="172.5" stroke="#999" stroke-width="0.7"/>
<line x1="432.47" y1="10.4" x2="432.47" y2="12.4" stroke="#999" stroke-width="0.7"/>
<line x1="279.8" y1="37.75" x2="281.8" y2="37.75" stroke="#999" stroke-width="0.7"/>
<line x1="463" y1="37.75" x2="461" y2="37.75" stroke="#999" stroke-width="0.7"/>
<text x="432.47" y="185.1" text-anchor="middle" class="tk">50</text>
<text x="276.7" y="40.70" text-anchor="end" class="tk">50</text>
<line x1="463.00" y1="174.5" x2="463.00" y2="172.5" stroke="#999" stroke-width="0.7"/>
<line x1="463.00" y1="10.4" x2="463.00" y2="12.4" stroke="#999" stroke-width="0.7"/>
<line x1="279.8" y1="10.40" x2="281.8" y2="10.40" stroke="#999" stroke-width="0.7"/>
<line x1="463" y1="10.40" x2="461" y2="10.40" stroke="#999" stroke-width="0.7"/>
<text x="463.00" y="185.1" text-anchor="middle" class="tk">60</text>
<text x="276.7" y="13.25" text-anchor="end" class="tk">60</text>
<line x1="279.80" y1="173.76" x2="463.00" y2="-16.59" stroke="#333" stroke-width="0.95" stroke-dasharray="3.9 2.5" clip-path="url(#cpb)"/>
<line x1="279.8" y1="174.5" x2="463.0" y2="10.400000000000006" stroke="#b85c5c" stroke-width="0.8" clip-path="url(#cpb)"/>
<text x="289.3" y="22.60" class="an">Fitting curve: y = 1.16x + 0.27</text>
<text x="289.3" y="31.60" class="an">R = 0.98</text>
<text x="289.3" y="40.60" class="an">RMSE = 5.60(20.75%)</text>
<text x="289.3" y="49.60" class="an">MBE = 4.68 (17.34%)</text>
<text x="371.4" y="198.0" text-anchor="middle" class="lb">The measured UV(W m<tspan dy="-3.8" font-size="6.2">-2</tspan><tspan dy="3.8">)</tspan></text>
<text transform="translate(264.8,91.65) rotate(-90)" text-anchor="middle" class="lb">CERES UV(W m<tspan dy="-3.8" font-size="6.2">-2</tspan><tspan dy="3.8">)</tspan></text>
<rect x="471.9" y="10.4" width="10.700000000000045" height="164.1" fill="url(#cbg)" stroke="#444" stroke-opacity="0.55" stroke-width="0.4"/>
<text x="485.0" y="177.10" class="ck">0</text>
<text x="485.0" y="160.69" class="ck">2</text>
<line x1="482.6" y1="158.09" x2="481.0" y2="158.09" stroke="#444" stroke-opacity="0.7" stroke-width="0.5"/>
<text x="485.0" y="144.28" class="ck">4</text>
<line x1="482.6" y1="141.68" x2="481.0" y2="141.68" stroke="#444" stroke-opacity="0.7" stroke-width="0.5"/>
<text x="485.0" y="127.87" class="ck">6</text>
<line x1="482.6" y1="125.27" x2="481.0" y2="125.27" stroke="#444" stroke-opacity="0.7" stroke-width="0.5"/>
<text x="485.0" y="111.46" class="ck">8</text>
<line x1="482.6" y1="108.86" x2="481.0" y2="108.86" stroke="#444" stroke-opacity="0.7" stroke-width="0.5"/>
<text x="485.0" y="95.05" class="ck">10</text>
<line x1="482.6" y1="92.45" x2="481.0" y2="92.45" stroke="#444" stroke-opacity="0.7" stroke-width="0.5"/>
<text x="485.0" y="78.64" class="ck">12</text>
<line x1="482.6" y1="76.04" x2="481.0" y2="76.04" stroke="#444" stroke-opacity="0.7" stroke-width="0.5"/>
<text x="485.0" y="62.23" class="ck">14</text>
<line x1="482.6" y1="59.63" x2="481.0" y2="59.63" stroke="#444" stroke-opacity="0.7" stroke-width="0.5"/>
<text x="485.0" y="45.82" class="ck">16</text>
<line x1="482.6" y1="43.22" x2="481.0" y2="43.22" stroke="#444" stroke-opacity="0.7" stroke-width="0.5"/>
<text x="485.0" y="29.41" class="ck">18</text>
<line x1="482.6" y1="26.81" x2="481.0" y2="26.81" stroke="#444" stroke-opacity="0.7" stroke-width="0.5"/>
<text x="485.0" y="13.00" class="ck">20</text>
<text x="372.1" y="215.0" text-anchor="middle" class="tg">(b)</text><clipPath id="cpc"><rect x="33.5" y="222.7" width="182.5" height="164.3"/></clipPath>
<circle cx="135.09" cy="296.42" r="0.42" fill="#f2d2a6" clip-path="url(#cpc)"/>
<circle cx="127.59" cy="303.34" r="0.42" fill="#b4ccd0" clip-path="url(#cpc)"/>
<circle cx="162.89" cy="268.92" r="0.42" fill="#c9cfd9" clip-path="url(#cpc)"/>
<circle cx="165.74" cy="265.30" r="0.42" fill="#e6e0b8" clip-path="url(#cpc)"/>
<circle cx="167.60" cy="266.92" r="0.42" fill="#bcd6cc" clip-path="url(#cpc)"/>
<circle cx="140.45" cy="290.16" r="0.42" fill="#f2d2a6" clip-path="url(#cpc)"/>
<circle cx="122.23" cy="309.21" r="0.42" fill="#c9cfd9" clip-path="url(#cpc)"/>
<circle cx="158.86" cy="273.65" r="0.42" fill="#bcd6cc" clip-path="url(#cpc)"/>
<circle cx="123.25" cy="303.59" r="0.42" fill="#b4ccd0" clip-path="url(#cpc)"/>
<circle cx="151.06" cy="282.93" r="0.42" fill="#dfe8c6" clip-path="url(#cpc)"/>
<circle cx="97.88" cy="324.62" r="0.42" fill="#f2d2a6" clip-path="url(#cpc)"/>
<circle cx="169.98" cy="261.99" r="0.42" fill="#e9e6c0" clip-path="url(#cpc)"/>
<circle cx="149.83" cy="280.59" r="0.42" fill="#dfe8c6" clip-path="url(#cpc)"/>
<circle cx="130.36" cy="298.13" r="0.42" fill="#e6e0b8" clip-path="url(#cpc)"/>
<rect x="33.5" y="222.7" width="182.5" height="164.3" fill="none" stroke="#999" stroke-width="0.8"/>
<line x1="33.50" y1="387" x2="33.50" y2="385" stroke="#999" stroke-width="0.7"/>
<line x1="33.50" y1="222.7" x2="33.50" y2="224.7" stroke="#999" stroke-width="0.7"/>
<line x1="33.5" y1="387.00" x2="35.5" y2="387.00" stroke="#999" stroke-width="0.7"/>
<line x1="216" y1="387.00" x2="214" y2="387.00" stroke="#999" stroke-width="0.7"/>
<text x="33.50" y="397.6" text-anchor="middle" class="tk">0</text>
<text x="30.4" y="390.45" text-anchor="end" class="tk">0</text>
<line x1="63.92" y1="387" x2="63.92" y2="385" stroke="#999" stroke-width="0.7"/>
<line x1="63.92" y1="222.7" x2="63.92" y2="224.7" stroke="#999" stroke-width="0.7"/>
<line x1="33.5" y1="359.62" x2="35.5" y2="359.62" stroke="#999" stroke-width="0.7"/>
<line x1="216" y1="359.62" x2="214" y2="359.62" stroke="#999" stroke-width="0.7"/>
<text x="63.92" y="397.6" text-anchor="middle" class="tk">10</text>
<text x="30.4" y="362.97" text-anchor="end" class="tk">10</text>
<line x1="94.33" y1="387" x2="94.33" y2="385" stroke="#999" stroke-width="0.7"/>
<line x1="94.33" y1="222.7" x2="94.33" y2="224.7" stroke="#999" stroke-width="0.7"/>
<line x1="33.5" y1="332.23" x2="35.5" y2="332.23" stroke="#999" stroke-width="0.7"/>
<line x1="216" y1="332.23" x2="214" y2="332.23" stroke="#999" stroke-width="0.7"/>
<text x="94.33" y="397.6" text-anchor="middle" class="tk">20</text>
<text x="30.4" y="335.48" text-anchor="end" class="tk">20</text>
<line x1="124.75" y1="387" x2="124.75" y2="385" stroke="#999" stroke-width="0.7"/>
<line x1="124.75" y1="222.7" x2="124.75" y2="224.7" stroke="#999" stroke-width="0.7"/>
<line x1="33.5" y1="304.85" x2="35.5" y2="304.85" stroke="#999" stroke-width="0.7"/>
<line x1="216" y1="304.85" x2="214" y2="304.85" stroke="#999" stroke-width="0.7"/>
<text x="124.75" y="397.6" text-anchor="middle" class="tk">30</text>
<text x="30.4" y="308.00" text-anchor="end" class="tk">30</text>
<line x1="155.17" y1="387" x2="155.17" y2="385" stroke="#999" stroke-width="0.7"/>
<line x1="155.17" y1="222.7" x2="155.17" y2="224.7" stroke="#999" stroke-width="0.7"/>
<line x1="33.5" y1="277.47" x2="35.5" y2="277.47" stroke="#999" stroke-width="0.7"/>
<line x1="216" y1="277.47" x2="214" y2="277.47" stroke="#999" stroke-width="0.7"/>
<text x="155.17" y="397.6" text-anchor="middle" class="tk">40</text>
<text x="30.4" y="280.52" text-anchor="end" class="tk">40</text>
<line x1="185.58" y1="387" x2="185.58" y2="385" stroke="#999" stroke-width="0.7"/>
<line x1="185.58" y1="222.7" x2="185.58" y2="224.7" stroke="#999" stroke-width="0.7"/>
<line x1="33.5" y1="250.08" x2="35.5" y2="250.08" stroke="#999" stroke-width="0.7"/>
<line x1="216" y1="250.08" x2="214" y2="250.08" stroke="#999" stroke-width="0.7"/>
<text x="185.58" y="397.6" text-anchor="middle" class="tk">50</text>
<text x="30.4" y="253.03" text-anchor="end" class="tk">50</text>
<line x1="216.00" y1="387" x2="216.00" y2="385" stroke="#999" stroke-width="0.7"/>
<line x1="216.00" y1="222.7" x2="216.00" y2="224.7" stroke="#999" stroke-width="0.7"/>
<line x1="33.5" y1="222.70" x2="35.5" y2="222.70" stroke="#999" stroke-width="0.7"/>
<line x1="216" y1="222.70" x2="214" y2="222.70" stroke="#999" stroke-width="0.7"/>
<text x="216.00" y="397.6" text-anchor="middle" class="tk">60</text>
<text x="30.4" y="225.55" text-anchor="end" class="tk">60</text>
<line x1="33.50" y1="378.87" x2="216.00" y2="231.00" stroke="#333" stroke-width="0.95" stroke-dasharray="3.9 2.5" clip-path="url(#cpc)"/>
<line x1="33.5" y1="387.0" x2="216.0" y2="222.7" stroke="#b85c5c" stroke-width="0.8" clip-path="url(#cpc)"/>
<text x="43.0" y="235.30" class="an">Fitting curve: y = 0.90x + 2.97</text>
<text x="43.0" y="244.30" class="an">R = 1.00</text>
<text x="43.0" y="253.30" class="an">RMSE = 0.89(3.20%)</text>
<text x="43.0" y="262.30" class="an">MBE = 0.08 (0.30%)</text>
<text x="124.75" y="409.6" text-anchor="middle" class="lb">The measured UV(W m<tspan dy="-3.8" font-size="6.2">-2</tspan><tspan dy="3.8">)</tspan></text>
<text transform="translate(18.5,304.05) rotate(-90)" text-anchor="middle" class="lb">The estimated UV(W m<tspan dy="-3.8" font-size="6.2">-2</tspan><tspan dy="3.8">)</tspan></text>
<rect x="225.3" y="222.7" width="10.699999999999989" height="164.3" fill="url(#cbg)" stroke="#444" stroke-opacity="0.55" stroke-width="0.4"/>
<text x="238.4" y="389.60" class="ck">0</text>
<text x="238.4" y="373.17" class="ck">2</text>
<line x1="236.0" y1="370.57" x2="234.4" y2="370.57" stroke="#444" stroke-opacity="0.7" stroke-width="0.5"/>
<text x="238.4" y="356.74" class="ck">4</text>
<line x1="236.0" y1="354.14" x2="234.4" y2="354.14" stroke="#444" stroke-opacity="0.7" stroke-width="0.5"/>
<text x="238.4" y="340.31" class="ck">6</text>
<line x1="236.0" y1="337.71" x2="234.4" y2="337.71" stroke="#444" stroke-opacity="0.7" stroke-width="0.5"/>
<text x="238.4" y="323.88" class="ck">8</text>
<line x1="236.0" y1="321.28" x2="234.4" y2="321.28" stroke="#444" stroke-opacity="0.7" stroke-width="0.5"/>
<text x="238.4" y="307.45" class="ck">10</text>
<line x1="236.0" y1="304.85" x2="234.4" y2="304.85" stroke="#444" stroke-opacity="0.7" stroke-width="0.5"/>
<text x="238.4" y="291.02" class="ck">12</text>
<line x1="236.0" y1="288.42" x2="234.4" y2="288.42" stroke="#444" stroke-opacity="0.7" stroke-width="0.5"/>
<text x="238.4" y="274.59" class="ck">14</text>
<line x1="236.0" y1="271.99" x2="234.4" y2="271.99" stroke="#444" stroke-opacity="0.7" stroke-width="0.5"/>
<text x="238.4" y="258.16" class="ck">16</text>
<line x1="236.0" y1="255.56" x2="234.4" y2="255.56" stroke="#444" stroke-opacity="0.7" stroke-width="0.5"/>
<text x="238.4" y="241.73" class="ck">18</text>
<line x1="236.0" y1="239.13" x2="234.4" y2="239.13" stroke="#444" stroke-opacity="0.7" stroke-width="0.5"/>
<text x="238.4" y="225.30" class="ck">20</text>
<text x="125.7" y="424.8" text-anchor="middle" class="tg">(c)</text><clipPath id="cpd"><rect x="279.8" y="222.7" width="183.2" height="164.3"/></clipPath>
<circle cx="354.55" cy="308.00" r="0.42" fill="#c3d2d6" clip-path="url(#cpd)"/>
<circle cx="351.63" cy="306.24" r="0.42" fill="#b4ccd0" clip-path="url(#cpd)"/>
<circle cx="316.32" cy="334.15" r="0.42" fill="#c3d2d6" clip-path="url(#cpd)"/>
<circle cx="391.42" cy="270.86" r="0.42" fill="#efe3b4" clip-path="url(#cpd)"/>
<circle cx="413.09" cy="253.89" r="0.42" fill="#c9cfd9" clip-path="url(#cpd)"/>
<circle cx="390.58" cy="274.60" r="0.42" fill="#efe3b4" clip-path="url(#cpd)"/>
<circle cx="346.25" cy="304.04" r="0.42" fill="#bcd6cc" clip-path="url(#cpd)"/>
<circle cx="329.41" cy="320.83" r="0.42" fill="#bcd6cc" clip-path="url(#cpd)"/>
<circle cx="320.45" cy="324.66" r="0.42" fill="#b9c6d4" clip-path="url(#cpd)"/>
<circle cx="408.42" cy="252.54" r="0.42" fill="#e9e6c0" clip-path="url(#cpd)"/>
<circle cx="411.08" cy="251.65" r="0.42" fill="#c9cfd9" clip-path="url(#cpd)"/>
<circle cx="361.36" cy="295.83" r="0.42" fill="#c3d2d6" clip-path="url(#cpd)"/>
<circle cx="332.39" cy="321.02" r="0.42" fill="#b9c6d4" clip-path="url(#cpd)"/>
<circle cx="317.76" cy="330.95" r="0.42" fill="#e9e6c0" clip-path="url(#cpd)"/>
<circle cx="381.89" cy="280.40" r="0.42" fill="#efe3b4" clip-path="url(#cpd)"/>
<circle cx="387.65" cy="279.09" r="0.42" fill="#efe3b4" clip-path="url(#cpd)"/>
<circle cx="395.15" cy="270.30" r="0.42" fill="#c9cfd9" clip-path="url(#cpd)"/>
<circle cx="372.83" cy="284.32" r="0.42" fill="#bcd6cc" clip-path="url(#cpd)"/>
<circle cx="328.56" cy="333.63" r="0.42" fill="#efe3b4" clip-path="url(#cpd)"/>
<circle cx="382.28" cy="277.84" r="0.42" fill="#b4ccd0" clip-path="url(#cpd)"/>
<circle cx="375.48" cy="279.71" r="0.42" fill="#b4ccd0" clip-path="url(#cpd)"/>
<circle cx="329.23" cy="324.38" r="0.42" fill="#c3d2d6" clip-path="url(#cpd)"/>
<circle cx="402.37" cy="265.49" r="0.42" fill="#bcd6cc" clip-path="url(#cpd)"/>
<circle cx="368.12" cy="292.75" r="0.42" fill="#b4ccd0" clip-path="url(#cpd)"/>
<circle cx="370.16" cy="291.41" r="0.42" fill="#b9c6d4" clip-path="url(#cpd)"/>
<circle cx="397.83" cy="264.12" r="0.42" fill="#bcd6cc" clip-path="url(#cpd)"/>
<circle cx="385.60" cy="270.94" r="0.42" fill="#efe3b4" clip-path="url(#cpd)"/>
<circle cx="376.17" cy="284.02" r="0.42" fill="#b9c6d4" clip-path="url(#cpd)"/>
<circle cx="327.76" cy="320.32" r="0.42" fill="#b9c6d4" clip-path="url(#cpd)"/>
<circle cx="375.82" cy="286.30" r="0.42" fill="#b4ccd0" clip-path="url(#cpd)"/>
<circle cx="406.19" cy="257.59" r="0.42" fill="#c9cfd9" clip-path="url(#cpd)"/>
<circle cx="340.99" cy="313.19" r="0.42" fill="#efe3b4" clip-path="url(#cpd)"/>
<circle cx="366.15" cy="295.03" r="0.42" fill="#e9e6c0" clip-path="url(#cpd)"/>
<circle cx="319.51" cy="337.11" r="0.42" fill="#c9cfd9" clip-path="url(#cpd)"/>
<circle cx="410.21" cy="255.38" r="0.42" fill="#bcd6cc" clip-path="url(#cpd)"/>
<circle cx="389.06" cy="272.02" r="0.42" fill="#e9e6c0" clip-path="url(#cpd)"/>
<circle cx="373.81" cy="289.31" r="0.42" fill="#b4ccd0" clip-path="url(#cpd)"/>
<circle cx="362.87" cy="296.20" r="0.42" fill="#c9cfd9" clip-path="url(#cpd)"/>
<circle cx="354.00" cy="309.57" r="0.42" fill="#b9c6d4" clip-path="url(#cpd)"/>
<circle cx="345.37" cy="312.06" r="0.42" fill="#c3d2d6" clip-path="url(#cpd)"/>
<circle cx="408.45" cy="257.42" r="0.42" fill="#c9cfd9" clip-path="url(#cpd)"/>
<circle cx="353.28" cy="304.27" r="0.42" fill="#b4ccd0" clip-path="url(#cpd)"/>
<circle cx="405.28" cy="253.84" r="0.42" fill="#e9e6c0" clip-path="url(#cpd)"/>
<circle cx="326.84" cy="322.30" r="0.42" fill="#efe3b4" clip-path="url(#cpd)"/>
<circle cx="367.13" cy="290.58" r="0.42" fill="#efe3b4" clip-path="url(#cpd)"/>
<circle cx="336.99" cy="319.02" r="0.42" fill="#c9cfd9" clip-path="url(#cpd)"/>
<circle cx="320.74" cy="331.14" r="0.42" fill="#c3d2d6" clip-path="url(#cpd)"/>
<circle cx="413.06" cy="249.81" r="0.42" fill="#c9cfd9" clip-path="url(#cpd)"/>
<circle cx="338.58" cy="315.21" r="0.42" fill="#bcd6cc" clip-path="url(#cpd)"/>
<circle cx="324.76" cy="323.29" r="0.42" fill="#b4ccd0" clip-path="url(#cpd)"/>
<circle cx="405.41" cy="259.15" r="0.42" fill="#c9cfd9" clip-path="url(#cpd)"/>
<circle cx="407.90" cy="257.01" r="0.42" fill="#efe3b4" clip-path="url(#cpd)"/>
<circle cx="382.90" cy="281.54" r="0.42" fill="#efe3b4" clip-path="url(#cpd)"/>
<circle cx="388.19" cy="271.59" r="0.42" fill="#efe3b4" clip-path="url(#cpd)"/>
<circle cx="364.53" cy="293.46" r="0.42" fill="#c3d2d6" clip-path="url(#cpd)"/>
<rect x="279.8" y="222.7" width="183.2" height="164.3" fill="none" stroke="#999" stroke-width="0.8"/>
<path d="M279.8 222.7 V387 H463" fill="none" stroke="#9c9c9c" stroke-width="1.15"/>
<line x1="279.80" y1="387" x2="279.80" y2="385" stroke="#999" stroke-width="0.7"/>
<line x1="279.80" y1="222.7" x2="279.80" y2="224.7" stroke="#999" stroke-width="0.7"/>
<line x1="279.8" y1="387.00" x2="281.8" y2="387.00" stroke="#999" stroke-width="0.7"/>
<line x1="463" y1="387.00" x2="461" y2="387.00" stroke="#999" stroke-width="0.7"/>
<text x="279.80" y="397.6" text-anchor="middle" class="tk">0</text>
<text x="276.7" y="390.45" text-anchor="end" class="tk">0</text>
<line x1="310.33" y1="387" x2="310.33" y2="385" stroke="#999" stroke-width="0.7"/>
<line x1="310.33" y1="222.7" x2="310.33" y2="224.7" stroke="#999" stroke-width="0.7"/>
<line x1="279.8" y1="359.62" x2="281.8" y2="359.62" stroke="#999" stroke-width="0.7"/>
<line x1="463" y1="359.62" x2="461" y2="359.62" stroke="#999" stroke-width="0.7"/>
<text x="310.33" y="397.6" text-anchor="middle" class="tk">10</text>
<text x="276.7" y="362.97" text-anchor="end" class="tk">10</text>
<line x1="340.87" y1="387" x2="340.87" y2="385" stroke="#999" stroke-width="0.7"/>
<line x1="340.87" y1="222.7" x2="340.87" y2="224.7" stroke="#999" stroke-width="0.7"/>
<line x1="279.8" y1="332.23" x2="281.8" y2="332.23" stroke="#999" stroke-width="0.7"/>
<line x1="463" y1="332.23" x2="461" y2="332.23" stroke="#999" stroke-width="0.7"/>
<text x="340.87" y="397.6" text-anchor="middle" class="tk">20</text>
<text x="276.7" y="335.48" text-anchor="end" class="tk">20</text>
<line x1="371.40" y1="387" x2="371.40" y2="385" stroke="#999" stroke-width="0.7"/>
<line x1="371.40" y1="222.7" x2="371.40" y2="224.7" stroke="#999" stroke-width="0.7"/>
<line x1="279.8" y1="304.85" x2="281.8" y2="304.85" stroke="#999" stroke-width="0.7"/>
<line x1="463" y1="304.85" x2="461" y2="304.85" stroke="#999" stroke-width="0.7"/>
<text x="371.40" y="397.6" text-anchor="middle" class="tk">30</text>
<text x="276.7" y="308.00" text-anchor="end" class="tk">30</text>
<line x1="401.93" y1="387" x2="401.93" y2="385" stroke="#999" stroke-width="0.7"/>
<line x1="401.93" y1="222.7" x2="401.93" y2="224.7" stroke="#999" stroke-width="0.7"/>
<line x1="279.8" y1="277.47" x2="281.8" y2="277.47" stroke="#999" stroke-width="0.7"/>
<line x1="463" y1="277.47" x2="461" y2="277.47" stroke="#999" stroke-width="0.7"/>
<text x="401.93" y="397.6" text-anchor="middle" class="tk">40</text>
<text x="276.7" y="280.52" text-anchor="end" class="tk">40</text>
<line x1="432.47" y1="387" x2="432.47" y2="385" stroke="#999" stroke-width="0.7"/>
<line x1="432.47" y1="222.7" x2="432.47" y2="224.7" stroke="#999" stroke-width="0.7"/>
<line x1="279.8" y1="250.08" x2="281.8" y2="250.08" stroke="#999" stroke-width="0.7"/>
<line x1="463" y1="250.08" x2="461" y2="250.08" stroke="#999" stroke-width="0.7"/>
<text x="432.47" y="397.6" text-anchor="middle" class="tk">50</text>
<text x="276.7" y="253.03" text-anchor="end" class="tk">50</text>
<line x1="463.00" y1="387" x2="463.00" y2="385" stroke="#999" stroke-width="0.7"/>
<line x1="463.00" y1="222.7" x2="463.00" y2="224.7" stroke="#999" stroke-width="0.7"/>
<line x1="279.8" y1="222.70" x2="281.8" y2="222.70" stroke="#999" stroke-width="0.7"/>
<line x1="463" y1="222.70" x2="461" y2="222.70" stroke="#999" stroke-width="0.7"/>
<text x="463.00" y="397.6" text-anchor="middle" class="tk">60</text>
<text x="276.7" y="225.55" text-anchor="end" class="tk">60</text>
<line x1="279.80" y1="365.23" x2="463.00" y2="210.79" stroke="#333" stroke-width="0.95" stroke-dasharray="3.9 2.5" clip-path="url(#cpd)"/>
<line x1="279.8" y1="387.0" x2="463.0" y2="222.7" stroke="#b85c5c" stroke-width="0.8" clip-path="url(#cpd)"/>
<text x="289.3" y="235.30" class="an">Fitting curve: y = 0.94x + 7.95</text>
<text x="289.3" y="244.30" class="an">R = 0.99</text>
<text x="289.3" y="253.30" class="an">RMSE = 6.52(23.33%)</text>
<text x="289.3" y="262.30" class="an">MBE = 6.39 (22.84%)</text>
<text x="371.4" y="409.6" text-anchor="middle" class="lb">The measured UV(W m<tspan dy="-3.8" font-size="6.2">-2</tspan><tspan dy="3.8">)</tspan></text>
<text transform="translate(264.8,304.05) rotate(-90)" text-anchor="middle" class="lb">CERES UV(W m<tspan dy="-3.8" font-size="6.2">-2</tspan><tspan dy="3.8">)</tspan></text>
<rect x="471.9" y="222.7" width="10.700000000000045" height="164.3" fill="url(#cbg)" stroke="#444" stroke-opacity="0.55" stroke-width="0.4"/>
<text x="485.0" y="389.60" class="ck">0</text>
<text x="485.0" y="373.17" class="ck">2</text>
<line x1="482.6" y1="370.57" x2="481.0" y2="370.57" stroke="#444" stroke-opacity="0.7" stroke-width="0.5"/>
<text x="485.0" y="356.74" class="ck">4</text>
<line x1="482.6" y1="354.14" x2="481.0" y2="354.14" stroke="#444" stroke-opacity="0.7" stroke-width="0.5"/>
<text x="485.0" y="340.31" class="ck">6</text>
<line x1="482.6" y1="337.71" x2="481.0" y2="337.71" stroke="#444" stroke-opacity="0.7" stroke-width="0.5"/>
<text x="485.0" y="323.88" class="ck">8</text>
<line x1="482.6" y1="321.28" x2="481.0" y2="321.28" stroke="#444" stroke-opacity="0.7" stroke-width="0.5"/>
<text x="485.0" y="307.45" class="ck">10</text>
<line x1="482.6" y1="304.85" x2="481.0" y2="304.85" stroke="#444" stroke-opacity="0.7" stroke-width="0.5"/>
<text x="485.0" y="291.02" class="ck">12</text>
<line x1="482.6" y1="288.42" x2="481.0" y2="288.42" stroke="#444" stroke-opacity="0.7" stroke-width="0.5"/>
<text x="485.0" y="274.59" class="ck">14</text>
<line x1="482.6" y1="271.99" x2="481.0" y2="271.99" stroke="#444" stroke-opacity="0.7" stroke-width="0.5"/>
<text x="485.0" y="258.16" class="ck">16</text>
<line x1="482.6" y1="255.56" x2="481.0" y2="255.56" stroke="#444" stroke-opacity="0.7" stroke-width="0.5"/>
<text x="485.0" y="241.73" class="ck">18</text>
<line x1="482.6" y1="239.13" x2="481.0" y2="239.13" stroke="#444" stroke-opacity="0.7" stroke-width="0.5"/>
<text x="485.0" y="225.30" class="ck">20</text>
<text x="370.8" y="423.5" text-anchor="middle" class="tg">(d)</text></svg>
</body></html>
